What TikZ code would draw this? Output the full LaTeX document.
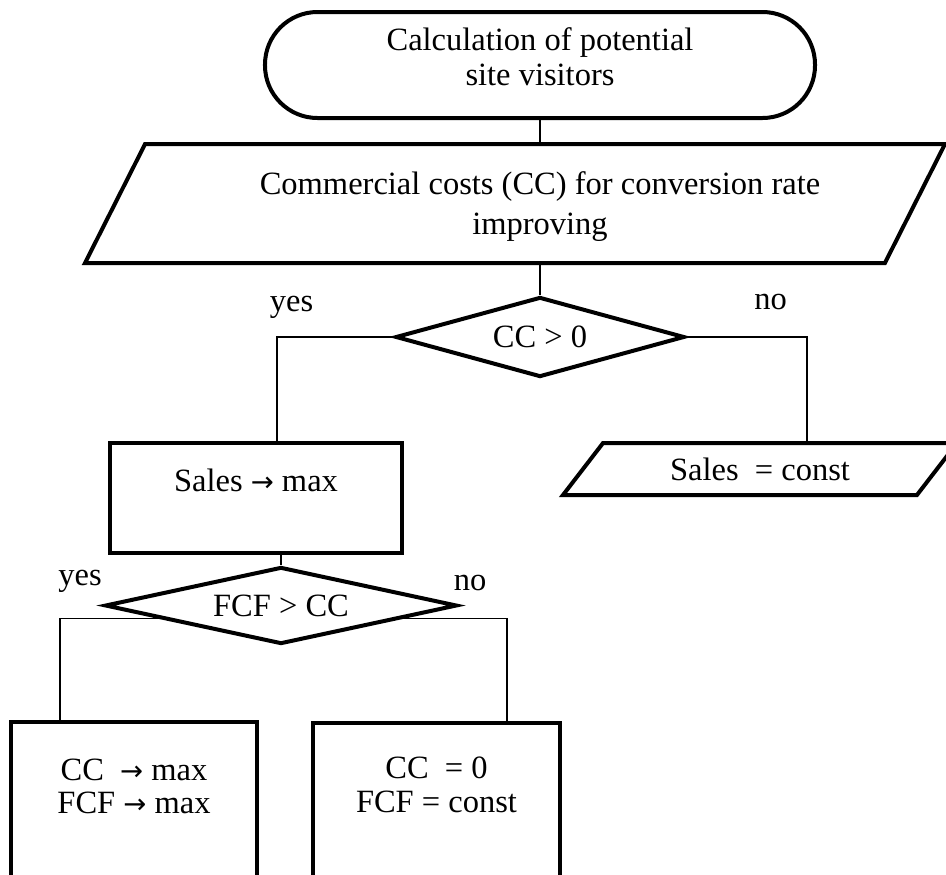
\documentclass[tikz,border=0pt]{standalone}
\usepackage{fontspec}
\setmainfont{Liberation Serif}
\newfontfamily\arrowfont{DejaVu Sans}
\newcommand\toarrow{{\arrowfont\fontsize{11}{11}\selectfont →}}
\usetikzlibrary{shapes.geometric, positioning}

\begin{document}
\begin{tikzpicture}[
    x=0.4pt, y=-0.4pt,
    font=\fontsize{13}{14}\selectfont,
    every node/.style={inner sep=0pt},
    terminal/.style={draw, line width=1.6pt, rounded corners=21pt, align=center, minimum width=220pt, minimum height=42.4pt},
    datablock/.style={draw, line width=1.6pt, trapezium, trapezium stretches body},
    decision/.style={draw, line width=1.6pt, diamond, aspect=3.6},
    process/.style={draw, line width=1.6pt, rectangle, align=center},
    line/.style={line width=0.6pt}
]
    \useasboundingbox (0,0) rectangle (946,874);

    % Nodes
    \node[terminal, text depth=6.6pt] (visitors) at (540,65) {Calculation of potential\\ site visitors};
    \node[datablock, trapezium left angle=63.2, trapezium right angle=116.8, inner ysep=23.8pt, minimum width=344pt] (costs) at (515,203.5) {};
    \node[align=center, font=\fontsize{13}{16}\selectfont] (coststext) at (540,207) {Commercial costs (CC) for conversion rate\\improving};
    \node[decision, minimum width=115.6pt, minimum height=32pt] (cc) at (540,337) {CC > 0};
    \node[process, minimum width=116.8pt, minimum height=44pt, text depth=14.4pt] (salesmax) at (256,498) {Sales \toarrow{} max};
    \node[datablock, trapezium left angle=52.4, trapezium right angle=127.6, text height=9pt, text depth=0pt, inner ysep=5.9pt, minimum width=157.6pt] (salesconst) at (760,469) {Sales\ \ = const};
    \node[decision, minimum width=140.8pt, minimum height=30.8pt] (fcf) at (281,605.5) {FCF > CC};
    \node[process, minimum width=98.4pt, minimum height=80pt, text depth=28.8pt, font=\fontsize{13}{13.2}\selectfont] (ccmax) at (134,822) {CC\ \ \toarrow{} max\\FCF \toarrow{} max};
    \node[process, minimum width=98.8pt, minimum height=80pt, text depth=30pt, font=\fontsize{13}{13.6}\selectfont] (cczero) at (436.5,822.5) {CC\ \ = 0\\FCF = const};

    % Connections
    \draw[line] (visitors.south) -- (visitors.south |- costs.north);
    \draw[line] (cc.north |- costs.south) -- (cc.north);
    \draw[line] (cc.west) -| ([xshift=8.4pt]salesmax.north);
    \draw[line] (cc.east) -| ([xshift=18.8pt]salesconst.north);
    \draw[line] (fcf.north |- salesmax.south) -- (fcf.north);
    \draw[line] (fcf.186) -| ([xshift=20.4pt]ccmax.north west);
    \draw[line] (fcf.-6) -| ([xshift=-22pt]cczero.north east);

    % Labels
    \node (yescc) at ([shift={(-102,-30)}]cc.west) {yes};
    \node (nocc) at ([shift={(84,-35)}]cc.east) {no};
    \node (yesfcf) at ([shift={(-23,-24)}]fcf.west) {yes};
    \node (nofcf) at ([shift={(11,-22.5)}]fcf.east) {no};
\end{tikzpicture}
\end{document}
